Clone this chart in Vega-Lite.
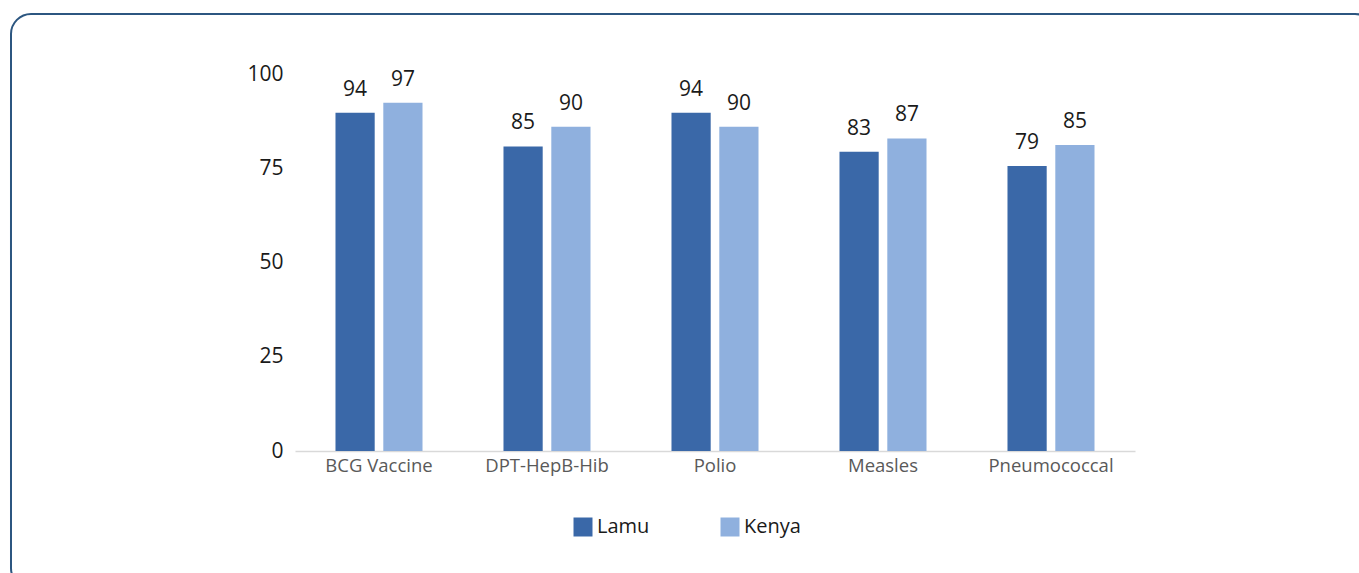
{
  "$schema": "https://vega.github.io/schema/vega-lite/v6.json",
  "width": 1364,
  "height": 574,
  "autosize": {"type": "none"},
  "padding": {"left": 11, "top": 14, "right": -16, "bottom": -15},
  "background": "white",
  "config": {
    "view": {"stroke": "#2c5680", "strokeWidth": 2, "cornerRadius": 20, "fill": "white"},
    "font": "Open Sans"
  },
  "data": {
    "values": [
      {"vaccine": "BCG Vaccine", "area": "Lamu", "value": 89.7, "label": 94},
      {"vaccine": "BCG Vaccine", "area": "Kenya", "value": 92.4, "label": 97},
      {"vaccine": "DPT-HepB-Hib", "area": "Lamu", "value": 80.8, "label": 85},
      {"vaccine": "DPT-HepB-Hib", "area": "Kenya", "value": 86.0, "label": 90},
      {"vaccine": "Polio", "area": "Lamu", "value": 89.7, "label": 94},
      {"vaccine": "Polio", "area": "Kenya", "value": 86.0, "label": 90},
      {"vaccine": "Measles", "area": "Lamu", "value": 79.4, "label": 83},
      {"vaccine": "Measles", "area": "Kenya", "value": 82.9, "label": 87},
      {"vaccine": "Pneumococcal", "area": "Lamu", "value": 75.6, "label": 79},
      {"vaccine": "Pneumococcal", "area": "Kenya", "value": 81.2, "label": 85}
    ]
  },
  "encoding": {
    "x": {
      "field": "vaccine",
      "type": "nominal",
      "sort": null,
      "scale": {"range": [284, 1124], "paddingInner": 0.482, "paddingOuter": 0.241},
      "axis": {
        "title": null,
        "orient": "bottom",
        "offset": -137,
        "domain": true,
        "domainColor": "#d9d9d9",
        "domainWidth": 1.5,
        "ticks": false,
        "grid": false,
        "labelPadding": 5,
        "labelFontSize": 18.5,
        "labelColor": "#595959",
        "labelAngle": 0
      }
    },
    "xOffset": {
      "field": "area",
      "type": "nominal",
      "sort": ["Lamu", "Kenya"],
      "scale": {"paddingInner": 0.18, "paddingOuter": 0}
    },
    "y": {
      "field": "value",
      "type": "quantitative",
      "scale": {"domain": [0, 100], "range": [437, 60], "nice": false},
      "axis": {
        "title": null,
        "values": [0, 25, 50, 75, 100],
        "grid": false,
        "domain": false,
        "ticks": false,
        "offset": -280,
        "labelPadding": 8,
        "labelFontSize": 21,
        "labelColor": "#1a1a1a"
      }
    }
  },
  "layer": [
    {
      "mark": {"type": "bar"},
      "encoding": {
        "color": {
          "field": "area",
          "type": "nominal",
          "scale": {"domain": ["Lamu", "Kenya"], "range": ["#3a68a8", "#8fb0de"]},
          "legend": {
            "title": null,
            "orient": "none",
            "legendX": 562,
            "legendY": 503,
            "direction": "horizontal",
            "symbolType": "square",
            "symbolSize": 361,
            "symbolStrokeWidth": 0,
            "symbolOpacity": 1,
            "labelFontSize": 20,
            "labelColor": "#1a1a1a",
            "labelOffset": 4,
            "columnPadding": 70,
            "padding": 0,
            "encode": {
              "symbols": {
                "update": {
                  "fill": {"signal": "datum.value === 'Lamu' ? '#1f74b0' : '#86aee0'"}
                }
              }
            }
          }
        }
      }
    },
    {
      "mark": {"type": "text", "baseline": "alphabetic", "dy": -17, "fontSize": 21, "color": "#1a1a1a"},
      "encoding": {
        "text": {"field": "label", "type": "quantitative"}
      }
    }
  ]
}
